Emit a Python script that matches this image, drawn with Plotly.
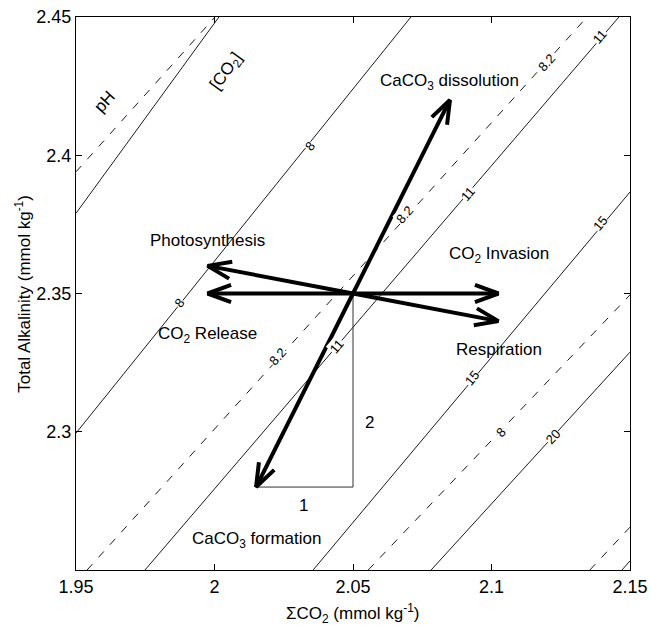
import math
import plotly.graph_objects as go

# ---------------- data ----------------
# pH contours (dashed): end points (DIC, TA) in mmol/kg
ph_levels = ["8.4", "8.2", "8", "7.8"]
ph_dic_start = [1.950, 1.954, 2.0555, 2.1355]
ph_ta_start = [2.394, 2.250, 2.250, 2.250]
ph_dic_end = [2.0002, 2.1345, 2.150, 2.150]
ph_ta_end = [2.450, 2.450, 2.3495, 2.2655]

# [CO2] contours (solid), umol/kg
co2_levels = ["5", "8", "11", "15", "20", "25"]
co2_dic_start = [1.950, 1.950, 1.9749, 2.0356, 2.0782, 2.1471]
co2_ta_start = [2.379, 2.2995, 2.250, 2.250, 2.250, 2.250]
co2_dic_end = [2.0016, 2.0709, 2.1460, 2.150, 2.150, 2.150]
co2_ta_end = [2.450, 2.450, 2.450, 2.3867, 2.3288, 2.2533]

# inline contour labels
clabel_kind = ["co2", "co2", "ph", "ph", "ph", "co2", "co2", "co2", "co2", "co2", "ph", "co2"]
clabel_text = ["8", "8", "8.2", "8.2", "8.2", "11", "11", "11", "15", "15", "8", "20"]
clabel_dic = [2.0345, 1.9875, 2.0229, 2.0688, 2.1200, 2.0441, 2.0916, 2.1392, 2.0928, 2.1392, 2.1033, 2.1223]
clabel_ta = [2.4030, 2.3466, 2.3271, 2.3784, 2.4334, 2.3308, 2.3862, 2.4429, 2.3193, 2.3754, 2.2999, 2.2982]

# process vectors from the common origin
origin_dic = 2.05
origin_ta = 2.35
process_names = ["CaCO<sub>3</sub> dissolution", "CaCO<sub>3</sub> formation", "CO<sub>2</sub> Invasion",
                 "Respiration", "Photosynthesis", "CO<sub>2</sub> Release"]
process_dic_end = [2.085, 2.015, 2.1025, 2.1025, 1.9975, 1.9975]
process_ta_end = [2.42, 2.28, 2.35, 2.34, 2.36, 2.35]
process_label_dic = [2.085, 2.015, 2.1026, 2.1028, 1.9975, 1.9975]
process_label_ta = [2.4266, 2.2609, 2.3639, 2.3296, 2.3693, 2.3350]

# stoichiometry triangle labels
ratio_text = ["1", "2"]
ratio_dic = [2.0323, 2.0558]
ratio_ta = [2.2735, 2.3035]

x_range = [1.95, 2.15]
y_range = [2.25, 2.45]
x_ticks = [1.95, 2.0, 2.05, 2.1, 2.15]
x_ticktext = ["1.95", "2", "2.05", "2.1", "2.15"]
y_ticks = [2.3, 2.35, 2.4, 2.45]
y_ticktext = ["2.3", "2.35", "2.4", "2.45"]

# ---------------- layout geometry ----------------
W, H = 651, 629
ML, MR, MT, MB = 76, 21, 17, 59
PW, PH = W - ML - MR, H - MT - MB
SX = PW / (x_range[1] - x_range[0])
SY = PH / (y_range[1] - y_range[0])

FONT = "Liberation Sans, Arial, Helvetica, sans-serif"

fig = go.Figure()

# contour lines
for i in range(len(ph_levels)):
    fig.add_trace(go.Scatter(x=[ph_dic_start[i], ph_dic_end[i]], y=[ph_ta_start[i], ph_ta_end[i]],
                             mode="lines", line=dict(color="black", width=0.9, dash="8px,9px"),
                             hoverinfo="skip", showlegend=False))
for i in range(len(co2_levels)):
    fig.add_trace(go.Scatter(x=[co2_dic_start[i], co2_dic_end[i]], y=[co2_ta_start[i], co2_ta_end[i]],
                             mode="lines", line=dict(color="black", width=0.9),
                             hoverinfo="skip", showlegend=False))

# triangle (1 : 2)
fig.add_trace(go.Scatter(x=[process_dic_end[1], origin_dic, origin_dic],
                         y=[process_ta_end[1], process_ta_end[1], origin_ta],
                         mode="lines", line=dict(color="#333333", width=1),
                         hoverinfo="skip", showlegend=False))

# arrows (shaft + open V head)
HEAD_LEN = 25.0
HEAD_ANG = math.radians(20)
for i in range(len(process_names)):
    x1, y1 = process_dic_end[i], process_ta_end[i]
    dxp = (x1 - origin_dic) * SX
    dyp = (y1 - origin_ta) * SY
    L = math.hypot(dxp, dyp)
    ux, uy = dxp / L, dyp / L
    bx, by = [], []
    for s in (1, -1):
        c, sn = math.cos(s * HEAD_ANG), math.sin(s * HEAD_ANG)
        rx = -(ux * c - uy * sn) * HEAD_LEN
        ry = -(ux * sn + uy * c) * HEAD_LEN
        bx.append(x1 + rx / SX)
        by.append(y1 + ry / SY)
    fig.add_trace(go.Scatter(x=[origin_dic, x1, None, bx[0], x1, bx[1]],
                             y=[origin_ta, y1, None, by[0], y1, by[1]],
                             mode="lines", line=dict(color="black", width=4),
                             hoverinfo="skip", showlegend=False))

annotations = []

# contour labels, rotated along their line
for i in range(len(clabel_text)):
    if clabel_kind[i] == "ph":
        j = ph_levels.index(clabel_text[i])
        dx = ph_dic_end[j] - ph_dic_start[j]
        dy = ph_ta_end[j] - ph_ta_start[j]
    else:
        j = co2_levels.index(clabel_text[i])
        dx = co2_dic_end[j] - co2_dic_start[j]
        dy = co2_ta_end[j] - co2_ta_start[j]
    ang = -math.degrees(math.atan2(dy * SY, dx * SX))
    annotations.append(dict(x=clabel_dic[i], y=clabel_ta[i], text=clabel_text[i], showarrow=False,
                            textangle=ang, bgcolor="white", borderpad=0,
                            font=dict(family=FONT, size=13, color="black")))

# process labels
for i in range(len(process_names)):
    annotations.append(dict(x=process_label_dic[i], y=process_label_ta[i], text=process_names[i],
                            showarrow=False, font=dict(family=FONT, size=17, color="black")))

for i in range(len(ratio_text)):
    annotations.append(dict(x=ratio_dic[i], y=ratio_ta[i], text=ratio_text[i], showarrow=False,
                            font=dict(family=FONT, size=17, color="black")))

# family labels
annotations.append(dict(x=1.9605, y=2.4193, text="pH", showarrow=False, textangle=-48,
                        font=dict(family=FONT, size=17, color="black")))
annotations.append(dict(x=2.0044, y=2.4302, text="[CO<sub>2</sub>]", showarrow=False, textangle=-54,
                        font=dict(family=FONT, size=17, color="black")))

# axis titles
annotations.append(dict(xref="paper", yref="paper", x=0.5, y=-0.053, yanchor="top",
                        text="\u03a3CO<sub>2</sub> (mmol kg<sup>-1</sup>)", showarrow=False,
                        font=dict(family=FONT, size=17, color="black")))
annotations.append(dict(xref="paper", yref="paper", x=-0.097, y=0.5, xanchor="center",
                        text="Total Alkalinity (mmol kg<sup>-1</sup>)", showarrow=False, textangle=-90,
                        font=dict(family=FONT, size=17, color="black")))

axis_common = dict(showgrid=False, zeroline=False, showline=True, linecolor="black", linewidth=1.2,
                   mirror="ticks", ticks="inside", ticklen=6, tickcolor="black", tickwidth=1,
                   automargin=False,
                   tickfont=dict(family=FONT, size=18, color="black"))

fig.update_layout(
    width=W, height=H,
    margin=dict(l=ML, r=MR, t=MT, b=MB, pad=0, autoexpand=False),
    paper_bgcolor="white", plot_bgcolor="white",
    showlegend=False,
    xaxis=dict(range=x_range, tickvals=x_ticks, ticktext=x_ticktext, **axis_common),
    yaxis=dict(range=y_range, tickvals=y_ticks, ticktext=y_ticktext, **axis_common),
    annotations=annotations,
)

fig.write_html("out.html", config={"displayModeBar": False},
               post_script="document.body.style.margin='0';document.body.style.overflow='hidden';")
